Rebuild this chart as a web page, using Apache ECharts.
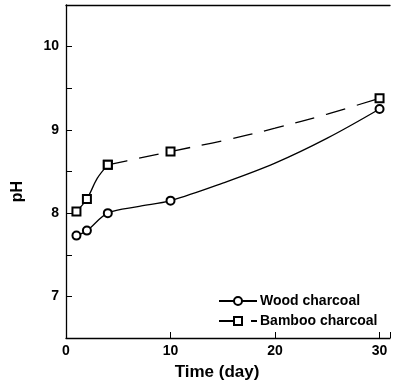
<!DOCTYPE html>
<html>
<head>
<meta charset="utf-8">
<script src="https://cdn.jsdelivr.net/npm/echarts@6/dist/echarts.min.js"></script>
<style>html,body{margin:0;padding:0;background:#fff}#c{width:393px;height:386px}</style>
</head>
<body>
<div id="c"></div>
<script>
// Measured points
var days = [1, 2, 4, 10, 30];
var woodPH = [7.73, 7.79, 8.00, 8.15, 9.25];
var bambooPH = [8.02, 8.17, 8.58, 8.74, 9.38];
// Fitted curves
var woodCurveDays = [1, 2, 4, 7, 10, 15, 20, 25, 30];
var woodCurvePH = [7.73, 7.79, 8.00, 8.08, 8.15, 8.36, 8.60, 8.90, 9.25];
var bambooSolidDays = [1, 2, 3, 4];
var bambooSolidPH = [8.02, 8.17, 8.42, 8.58];
var bambooDashDays = [4, 7, 10, 15, 20, 25, 30];
var bambooDashPH = [8.58, 8.66, 8.74, 8.87, 9.02, 9.19, 9.38];
var xTicks = [0, 10, 20, 30];
var yTicks = [7, 8, 9, 10];

function build(cx, cy, mx, my) {
  return cx.map(function (x, i) {
    var k = mx.indexOf(x);
    if (k >= 0) return { value: [x, my[k]] };
    return { value: [x, cy[i]], symbol: 'none' };
  });
}

var font = 'Liberation Sans, Arial, sans-serif';
var chart = echarts.init(document.getElementById('c'), null, { renderer: 'canvas' });
var lineBase = { color: '#000', width: 1.3 };
chart.setOption({
  animation: false,
  backgroundColor: '#fff',
  grid: { left: 66, right: 0, top: 5, bottom: 46 },
  legend: {
    orient: 'vertical', left: 213, top: 289,
    itemWidth: 38, itemHeight: 10, itemGap: 6,
    data: ['Wood charcoal', 'Bamboo charcoal'],
    textStyle: { fontFamily: font, fontWeight: 'bold', fontSize: 14, color: '#000', padding: [0, 0, 0, -2] }
  },
  xAxis: [{
    type: 'value', min: 0, max: 31, interval: 10,
    axisLine: { show: true, onZero: false, lineStyle: { color: '#000', width: 1.3 } },
    axisTick: { show: true, inside: true, length: 6, lineStyle: { color: '#000' } },
    axisLabel: {
      margin: 6, fontFamily: font, fontWeight: 'bold', fontSize: 14, color: '#000',
      formatter: function (v) { return xTicks.indexOf(v) >= 0 ? String(v) : ''; }
    },
    splitLine: { show: false },
    name: 'Time (day)', nameLocation: 'middle', nameGap: 26,
    nameTextStyle: { fontFamily: font, fontWeight: 'bold', fontSize: 17, color: '#000', padding: [0, 22, 0, 0] }
  }, {
    type: 'value', min: 0, max: 31, position: 'top',
    axisLine: { show: true, lineStyle: { color: '#000', width: 1.3 } },
    axisTick: { show: false }, axisLabel: { show: false }, splitLine: { show: false }
  }],
  yAxis: {
    type: 'value', min: 6.5, max: 10.5, interval: 0.5,
    axisLine: { show: true, onZero: false, lineStyle: { color: '#000', width: 1.3 } },
    axisTick: { show: true, inside: true, length: 6, lineStyle: { color: '#000' },
      interval: function (i, v) { return yTicks.indexOf(Number(v)) >= 0; } },
    axisLabel: {
      margin: 7, fontFamily: font, fontWeight: 'bold', fontSize: 14, color: '#000',
      formatter: function (v) { return yTicks.indexOf(v) >= 0 ? String(v) : ''; }
    },
    splitLine: { show: false },
    name: 'pH', nameLocation: 'middle', nameGap: 40,
    nameTextStyle: { fontFamily: font, fontWeight: 'bold', fontSize: 16, color: '#000', padding: [0, 40, 0, 0] }
  },
  series: [{
    name: 'Wood charcoal', type: 'line', smooth: 0.35,
    symbol: 'emptyCircle', symbolSize: 8, showAllSymbol: true,
    itemStyle: { color: '#000', borderColor: '#000', borderWidth: 1.2 },
    lineStyle: lineBase, z: 3,
    data: build(woodCurveDays, woodCurvePH, days, woodPH)
  }, {
    name: 'bamboo-early', type: 'line', smooth: 0.35,
    symbol: 'emptyRect', symbolSize: 8, showAllSymbol: true,
    itemStyle: { color: '#000', borderColor: '#000', borderWidth: 1.2 },
    lineStyle: lineBase, z: 3,
    data: build(bambooSolidDays, bambooSolidPH, days, bambooPH)
  }, {
    name: 'Bamboo charcoal', type: 'line', smooth: 0.35,
    symbol: 'emptyRect', symbolSize: 8, showAllSymbol: true,
    itemStyle: { color: '#000', borderColor: '#000', borderWidth: 1.2 },
    lineStyle: { color: '#000', width: 1.3, type: [20, 12] }, z: 3,
    data: build(bambooDashDays, bambooDashPH, days, bambooPH)
  }]
});
</script>
</body>
</html>
